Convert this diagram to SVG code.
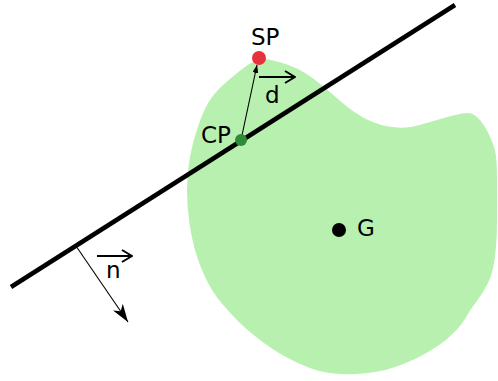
<svg xmlns="http://www.w3.org/2000/svg" width="498" height="381" viewBox="0 0 498 381">
<style>
.lbl{font-family:"DejaVu Sans","Liberation Sans",sans-serif;font-size:23px;fill:#000}
.thin{stroke:#000;stroke-width:1.1;fill:none}
.vec{stroke:#000;stroke-width:2;fill:none}
</style>
<defs>
<marker id="big" viewBox="0 0 18 12" refX="18" refY="6" markerUnits="userSpaceOnUse" markerWidth="18" markerHeight="12" orient="auto">
<path d="M0,0 L18,6 L0,12 L5,6 z" fill="#000"/>
</marker>
<marker id="small" viewBox="0 0 8 6" refX="8" refY="3" markerUnits="userSpaceOnUse" markerWidth="8" markerHeight="6" orient="auto">
<path d="M0,0 L8,3 L0,6 z" fill="#000"/>
</marker>
<marker id="chev" viewBox="0 0 12 14" refX="11" refY="7" markerUnits="userSpaceOnUse" markerWidth="12" markerHeight="14" orient="auto">
<path d="M1,1 L11,7 L1,13" fill="none" stroke="#000" stroke-width="2"/>
</marker>
</defs>
<g id="shape">
<path fill="#b8f0b0" d="M243.5,68 Q250,63 256,60.5 Q262,58 271,60 Q280,62 288.5,65 Q297,68 305,73 Q313,78 321.5,85 Q330,92 338.5,99.5 Q347,107 355,112.5 Q363,118 371.5,121.5 Q380,125 388.5,126.5 Q397,128 405,127.5 Q413,127 421.5,124.5 Q430,122 438.5,119.5 Q447,117 455,115 Q463,113 468,113 Q473,113 478,118 Q483,123 487.5,131.5 Q492,140 494.5,148.5 Q497,157 497,178.5 Q497,200 497,220 Q497,240 495,256.5 Q493,273 488,283 Q483,293 476.5,301.5 Q470,310 466.5,316.5 Q463,323 455,331.5 Q447,340 437,346.5 Q427,353 417,358 Q407,363 393.5,367.5 Q380,372 363.5,373.5 Q347,375 333.5,373.5 Q320,372 308.5,367.5 Q297,363 285,356.5 Q273,350 260,340 Q247,330 238.5,321.5 Q230,313 221.5,303 Q213,293 206.5,280 Q200,267 196,253.5 Q192,240 189.5,223.5 Q187,207 187,190 Q187,173 190,156.5 Q193,140 199,123.5 Q205,107 211,98.5 Q217,90 227,81.5 Q237,73 243.5,68 Z"/>
</g>
<g id="line">
<line x1="11" y1="287" x2="455" y2="5" stroke="#000" stroke-width="4.5"/>
</g>
<g id="connectors">
<line class="thin" x1="241" y1="140" x2="257" y2="65" marker-end="url(#small)"/>
<line class="thin" x1="76" y1="246" x2="128" y2="322" marker-end="url(#big)"/>
</g>
<g id="G">
<circle cx="339" cy="230" r="7" fill="#000"/>
<text class="lbl" x="357" y="236">G</text>
</g>
<g id="SP">
<circle cx="259" cy="58" r="7" fill="#e8323c"/>
<text class="lbl" x="251" y="45">SP</text>
</g>
<g id="CP">
<circle cx="241" cy="140" r="6" fill="#2e8b36"/>
<text class="lbl" x="201" y="143">CP</text>
</g>
<g id="d">
<line class="vec" x1="259" y1="77" x2="295" y2="77" marker-end="url(#chev)"/>
<text class="lbl" x="265" y="103">d</text>
</g>
<g id="n">
<line class="vec" x1="97" y1="256" x2="132" y2="256" marker-end="url(#chev)"/>
<text class="lbl" x="106" y="278">n</text>
</g>
</svg>
